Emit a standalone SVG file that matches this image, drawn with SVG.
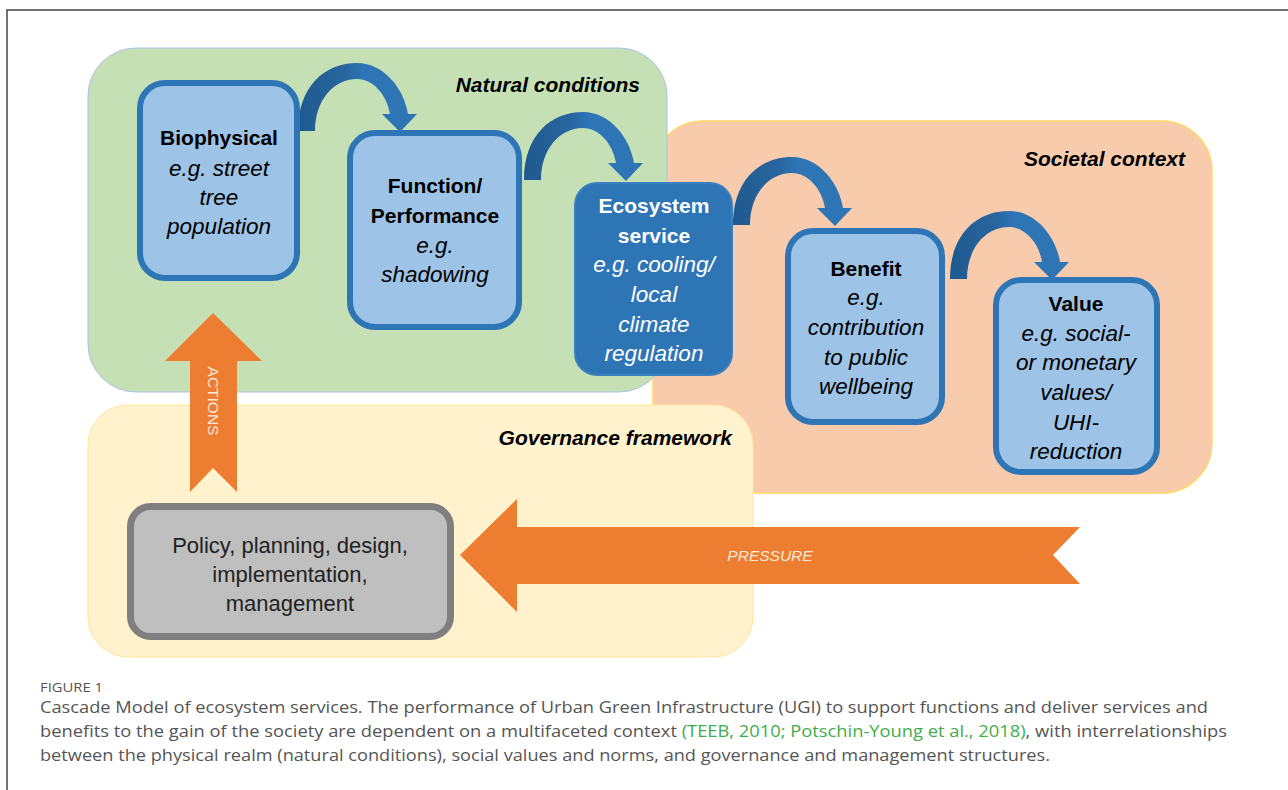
<svg xmlns="http://www.w3.org/2000/svg" width="1288" height="790" viewBox="0 0 1288 790">
<style>
.panel-label{font-family:"Liberation Sans",Arial,sans-serif;font-weight:bold;font-style:italic;font-size:21px;fill:#000;text-anchor:end}
.head{font-family:"Liberation Sans",Arial,sans-serif;font-weight:bold;font-size:21px;fill:#000;text-anchor:middle}
.ex{font-family:"Liberation Sans",Arial,sans-serif;font-style:italic;font-size:22.5px;fill:#000;text-anchor:middle}
.white{fill:#fff}
.lbox{fill:#9dc3e6;stroke:#2e75b6;stroke-width:6}
.pol{font-family:"Liberation Sans",Arial,sans-serif;font-size:22px;fill:#222;text-anchor:middle}
.arrowlbl{font-family:"Liberation Sans",Arial,sans-serif;font-style:italic;font-size:15.5px;fill:#fde9d9;text-anchor:middle}
.upright{font-style:normal}
.cap{font-family:"Open Sans","Liberation Sans",sans-serif;font-size:16px;fill:#555}
</style>
<defs>
<linearGradient id="curveGrad" x1="0" y1="0" x2="1" y2="0">
<stop offset="0" stop-color="#1f5a8e"/>
<stop offset="0.4" stop-color="#2866a1"/>
<stop offset="0.55" stop-color="#2e75b6"/>
<stop offset="1" stop-color="#2e75b6"/>
</linearGradient>
<path id="curve" d="M0,0 C0,-45 27,-68 59,-68 C86,-68 106,-42 110,-17 L119,-17 L102,1 L84,-17 L92,-17 C89,-36 75,-52 59,-52 C35,-52 17,-30 17,0 Z" fill="url(#curveGrad)"/>
</defs>
<rect width="1288" height="790" fill="#fff"/>
<path d="M7,790 L7,10 L1288,10" fill="none" stroke="#444" stroke-width="1.5"/>

<g id="panel-societal">
<rect x="653" y="121" width="559" height="372" rx="50" fill="#f8cbad" stroke="#ffd966" stroke-width="1.5"/>
<text class="panel-label" x="1185" y="166">Societal context</text>
</g>
<g id="panel-natural">
<rect x="88" y="48" width="579" height="344" rx="48" fill="#c5e0b4" stroke="#a9c4e8" stroke-width="1"/>
<text class="panel-label" x="640" y="92">Natural conditions</text>
</g>
<g id="panel-governance">
<rect x="88" y="405" width="665" height="252" rx="40" fill="#fff2cc" stroke="#ffe699" stroke-width="1"/>
<text class="panel-label" x="732" y="445">Governance framework</text>
</g>

<g id="connectors">
<use href="#curve" x="298" y="131"/>
<use href="#curve" x="524" y="180"/>
<use href="#curve" x="733" y="225"/>
<use href="#curve" x="950" y="279"/>
<g id="actions-arrow">
<polygon points="213,313 262,361 237,361 237,492 213,468 190,492 190,361 165,361" fill="#ed7d31"/>
<text class="arrowlbl upright" transform="translate(207.5,401) rotate(90)">ACTIONS</text>
</g>
<g id="pressure-arrow">
<polygon points="460,555 517,499 517,527 1080,527 1053,555 1080,584 517,584 517,612" fill="#ed7d31"/>
<text class="arrowlbl" x="770" y="561">PRESSURE</text>
</g>
</g>

<g id="node-biophysical">
<rect class="lbox" x="140" y="83" width="157" height="195" rx="25"/>
<text class="head" x="219" y="145">Biophysical</text>
<text class="ex" x="219" y="176">e.g. street</text>
<text class="ex" x="219" y="205">tree</text>
<text class="ex" x="219" y="234">population</text>
</g>
<g id="node-function">
<rect class="lbox" x="350" y="133" width="169" height="194" rx="25"/>
<text class="head" x="435" y="193">Function/</text>
<text class="head" x="435" y="223">Performance</text>
<text class="ex" x="435" y="253">e.g.</text>
<text class="ex" x="435" y="282">shadowing</text>
</g>
<g id="node-ecosystem">
<rect x="575" y="183" width="157" height="192" rx="22" fill="#2e75b6" stroke="#3a80c0" stroke-width="2"/>
<text class="head white" x="654" y="213">Ecosystem</text>
<text class="head white" x="654" y="243">service</text>
<text class="ex white" x="654" y="272">e.g. cooling/</text>
<text class="ex white" x="654" y="302">local</text>
<text class="ex white" x="654" y="332">climate</text>
<text class="ex white" x="654" y="361">regulation</text>
</g>
<g id="node-benefit">
<rect class="lbox" x="788" y="231" width="154" height="191" rx="25"/>
<text class="head" x="866" y="276">Benefit</text>
<text class="ex" x="866" y="305">e.g.</text>
<text class="ex" x="866" y="335">contribution</text>
<text class="ex" x="866" y="365">to public</text>
<text class="ex" x="866" y="394">wellbeing</text>
</g>
<g id="node-value">
<rect class="lbox" x="996" y="280" width="161" height="192" rx="25"/>
<text class="head" x="1076" y="311">Value</text>
<text class="ex" x="1076" y="341">e.g. social-</text>
<text class="ex" x="1076" y="370">or monetary</text>
<text class="ex" x="1076" y="400">values/</text>
<text class="ex" x="1076" y="430">UHI-</text>
<text class="ex" x="1076" y="459">reduction</text>
</g>
<g id="node-policy">
<rect x="130.5" y="506.5" width="320" height="130" rx="20" fill="#bfbfbf" stroke="#7f7f7f" stroke-width="7"/>
<text class="pol" x="290" y="553">Policy, planning, design,</text>
<text class="pol" x="290" y="582">implementation,</text>
<text class="pol" x="290" y="611">management</text>
</g>

<g id="caption">
<text x="40" y="692" font-family="Open Sans, Liberation Sans, sans-serif" font-size="12" fill="#555" textLength="63" lengthAdjust="spacingAndGlyphs">FIGURE 1</text>
<text class="cap" x="40" y="713" textLength="1168" lengthAdjust="spacingAndGlyphs">Cascade Model of ecosystem services. The performance of Urban Green Infrastructure (UGI) to support functions and deliver services and</text>
<text class="cap" x="40" y="737" textLength="1187" lengthAdjust="spacingAndGlyphs">benefits to the gain of the society are dependent on a multifaceted context <tspan fill="#3fae49">(TEEB, 2010; Potschin-Young et al., 2018)</tspan>, with interrelationships</text>
<text class="cap" x="40" y="761" textLength="1010" lengthAdjust="spacingAndGlyphs">between the physical realm (natural conditions), social values and norms, and governance and management structures.</text>
</g>
</svg>
